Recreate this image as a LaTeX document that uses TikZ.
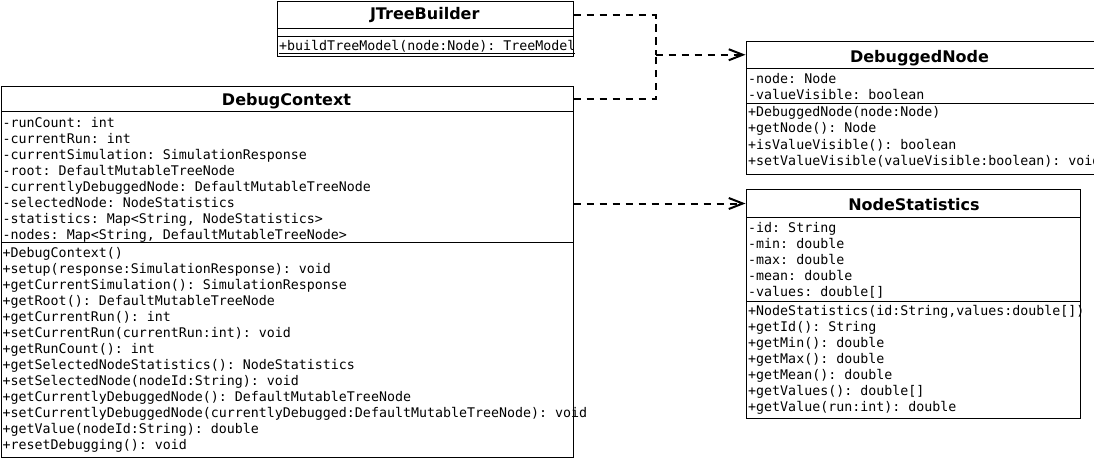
\documentclass[tikz,border=0pt]{standalone}
\usepackage{fontspec}
\setmainfont{DejaVu Sans}
\setsansfont{DejaVu Sans}
\setmonofont{DejaVu Sans Mono}
\usetikzlibrary{arrows.meta}
\begin{document}
\begin{tikzpicture}[x=1pt,y=-1pt,
  umlbox/.style={draw=black, line width=1pt, rectangle, inner sep=0pt, anchor=north west},
  mem/.style={font=\ttfamily\fontsize{13.3}{16}\selectfont, anchor=base west, inner sep=0pt},
  ttl/.style={font=\sffamily\bfseries\fontsize{16}{19}\selectfont, anchor=base, inner sep=0pt},
  dep/.style={draw=black, line width=2pt, dash pattern=on 7.5pt off 5.5pt},
  deparrow/.style={dep, -{Straight Barb[length=14pt,width=11pt]}}
]
\useasboundingbox (0,0) rectangle (1094,458);
\fill[white] (0,0) rectangle (1094,458);

% ---------- JTreeBuilder ----------
\node[umlbox, minimum width=295.5pt, minimum height=27pt] (jtbT) at (277,1) {};
\node[umlbox, minimum width=295.5pt, minimum height=8pt] (jtbA) at (277,28) {};
\node[umlbox, minimum width=295.5pt, minimum height=20pt] (jtbM) at (277,36) {};
\node[ttl] (jtbN) at (424.75,19) {JTreeBuilder};
\node[mem] (jtbm1) at (279,50) {\underline{+buildTreeModel(node:Node): TreeModel}};

% ---------- DebugContext ----------
\node[umlbox, minimum width=572pt, minimum height=25pt] (dcT) at (0.5,86) {};
\node[umlbox, minimum width=572pt, minimum height=131pt] (dcA) at (0.5,111) {};
\node[umlbox, minimum width=572pt, minimum height=215pt] (dcM) at (0.5,242) {};
\node[ttl] (dcN) at (286.5,105) {DebugContext};
\foreach \t [count=\i] in {
  {-runCount: int},
  {-currentRun: int},
  {-currentSimulation: SimulationResponse},
  {-root: DefaultMutableTreeNode},
  {-currentlyDebuggedNode: DefaultMutableTreeNode},
  {-selectedNode: NodeStatistics},
  {-statistics: Map<String, NodeStatistics>},
  {-nodes: Map<String, DefaultMutableTreeNode>}}
  \node[mem] (dca\i) at (2.5,{127+16*(\i-1)}) {\t};
\foreach \t [count=\i] in {
  {+DebugContext()},
  {+setup(response:SimulationResponse): void},
  {+getCurrentSimulation(): SimulationResponse},
  {+getRoot(): DefaultMutableTreeNode},
  {+getCurrentRun(): int},
  {+setCurrentRun(currentRun:int): void},
  {+getRunCount(): int},
  {+getSelectedNodeStatistics(): NodeStatistics},
  {+setSelectedNode(nodeId:String): void},
  {+getCurrentlyDebuggedNode(): DefaultMutableTreeNode},
  {+setCurrentlyDebuggedNode(currentlyDebugged:DefaultMutableTreeNode): void},
  {+getValue(nodeId:String): double},
  {+resetDebugging(): void}}
  \node[mem] (dcm\i) at (2.5,{257.5+16*(\i-1)}) {\t};

% ---------- DebuggedNode ----------
\node[umlbox, minimum width=348pt, minimum height=27.5pt] (dnT) at (745.5,40.5) {};
\node[umlbox, minimum width=348pt, minimum height=35pt] (dnA) at (745.5,68) {};
\node[umlbox, minimum width=348pt, minimum height=71pt] (dnM) at (745.5,103) {};
\node[ttl] (dnN) at (919.5,62) {DebuggedNode};
\foreach \t [count=\i] in {
  {-node: Node},
  {-valueVisible: boolean}}
  \node[mem] (dna\i) at (748,{83+16*(\i-1)}) {\t};
\begin{scope}
\clip (745.5,103) rectangle (1093,174);
\foreach \t [count=\i] in {
  {+DebuggedNode(node:Node)},
  {+getNode(): Node},
  {+isValueVisible(): boolean},
  {+setValueVisible(valueVisible:boolean): void}}
  \node[mem] (dnm\i) at (748,{116.5+16.4*(\i-1)}) {\t};
\end{scope}

% ---------- NodeStatistics ----------
\node[umlbox, minimum width=334pt, minimum height=28pt] (nsT) at (745.5,189) {};
\node[umlbox, minimum width=334pt, minimum height=84pt] (nsA) at (745.5,217) {};
\node[umlbox, minimum width=334pt, minimum height=117pt] (nsM) at (745.5,301) {};
\node[ttl] (nsN) at (914,210) {NodeStatistics};
\foreach \t [count=\i] in {
  {-id: String},
  {-min: double},
  {-max: double},
  {-mean: double},
  {-values: double[]}}
  \node[mem] (nsa\i) at (748,{232+16*(\i-1)}) {\t};
\foreach \t [count=\i] in {
  {+NodeStatistics(id:String,values:double[])},
  {+getId(): String},
  {+getMin(): double},
  {+getMax(): double},
  {+getMean(): double},
  {+getValues(): double[]},
  {+getValue(run:int): double}}
  \node[mem] (nsm\i) at (748,{315+16.1*(\i-1)}) {\t};

% ---------- Connectors ----------
\path (dnT.west) ++(-90,0) coordinate (junc);
\draw[dep] (jtbT.east) -| (junc);
\draw[dep] (dcT.east) -| (junc);
\draw[deparrow] (junc) -- (dnT.west);
\draw[deparrow] (dcA.east |- nsT.west) -- (nsT.west);
\end{tikzpicture}
\end{document}
